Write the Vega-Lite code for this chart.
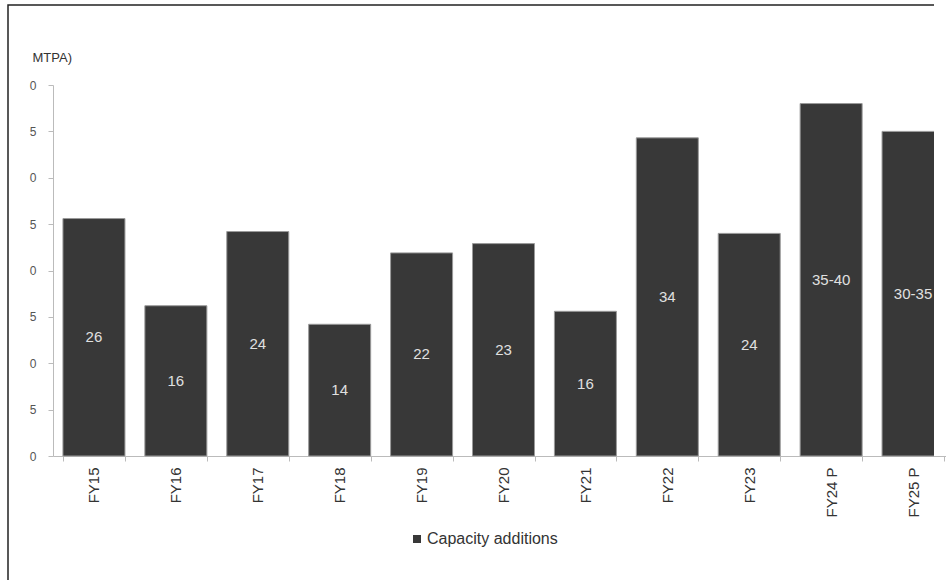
{
  "$schema": "https://vega.github.io/schema/vega-lite/v6.json",
  "autosize": {"type": "none"},
  "padding": {"left": 8, "top": 5, "right": 12, "bottom": 0},
  "width": 926,
  "height": 575,
  "background": "white",
  "config": {
    "font": "Liberation Sans",
    "view": {"stroke": "#222222", "strokeWidth": 1.5, "strokeDash": [926, 1501, 575]}
  },
  "data": {
    "values": [
      {"year": "FY15", "value": 25.6, "label": "26"},
      {"year": "FY16", "value": 16.2, "label": "16"},
      {"year": "FY17", "value": 24.2, "label": "24"},
      {"year": "FY18", "value": 14.2, "label": "14"},
      {"year": "FY19", "value": 21.9, "label": "22"},
      {"year": "FY20", "value": 22.9, "label": "23"},
      {"year": "FY21", "value": 15.6, "label": "16"},
      {"year": "FY22", "value": 34.3, "label": "34"},
      {"year": "FY23", "value": 24.0, "label": "24"},
      {"year": "FY24 P", "value": 38.0, "label": "35-40"},
      {"year": "FY25 P", "value": 35.0, "label": "30-35"}
    ]
  },
  "resolve": {"scale": {"y": "independent"}},
  "encoding": {
    "x": {
      "field": "year",
      "type": "nominal",
      "sort": null,
      "scale": {"range": [45, 946], "paddingInner": 0.243, "paddingOuter": 0.1215},
      "axis": {
        "orient": "bottom",
        "offset": -124,
        "title": null,
        "labelAngle": -90,
        "labelAlign": "right",
        "labelBaseline": "middle",
        "labelFontSize": 15,
        "labelColor": "#333333",
        "labelPadding": 6,
        "tickBand": "extent",
        "tickSize": 5,
        "tickColor": "#bbbbbb",
        "domainColor": "#bbbbbb"
      }
    }
  },
  "layer": [
    {
      "mark": {"type": "bar", "clip": true, "stroke": "#9a9a9a", "strokeWidth": 1},
      "encoding": {
        "y": {
          "field": "value",
          "type": "quantitative",
          "scale": {"domain": [0, 40], "range": [451, 80], "nice": false},
          "axis": {
            "orient": "left",
            "offset": -45,
            "values": [0, 5, 10, 15, 20, 25, 30, 35, 40],
            "labelExpr": "'' + (datum.value % 10)",
            "grid": false,
            "title": "MTPA)",
            "titleAngle": 0,
            "titleX": -21,
            "titleY": 52,
            "titleAlign": "left",
            "titleBaseline": "middle",
            "titleFontSize": 13,
            "titleFontWeight": "normal",
            "titleColor": "#333333",
            "domainColor": "#bbbbbb",
            "tickColor": "#bbbbbb",
            "tickSize": 5,
            "labelPadding": 12,
            "labelColor": "#555555",
            "labelFontSize": 12
          }
        },
        "color": {
          "datum": "Capacity additions",
          "type": "nominal",
          "scale": {"range": ["#383838"]},
          "legend": {
            "orient": "none",
            "legendX": 401,
            "legendY": 526,
            "title": null,
            "padding": 0,
            "labelFontSize": 16,
            "labelColor": "#333333",
            "labelOffset": 2,
            "symbolType": "square",
            "symbolSize": 64,
            "symbolStrokeWidth": 0
          }
        }
      }
    },
    {
      "mark": {"type": "text", "clip": true, "baseline": "middle", "align": "center", "fontSize": 15, "color": "#e0e0e0"},
      "encoding": {
        "y": {
          "field": "value",
          "type": "quantitative",
          "scale": {"domain": [0, 80], "range": [451, 80], "nice": false},
          "axis": null
        },
        "text": {"field": "label"}
      }
    }
  ]
}
